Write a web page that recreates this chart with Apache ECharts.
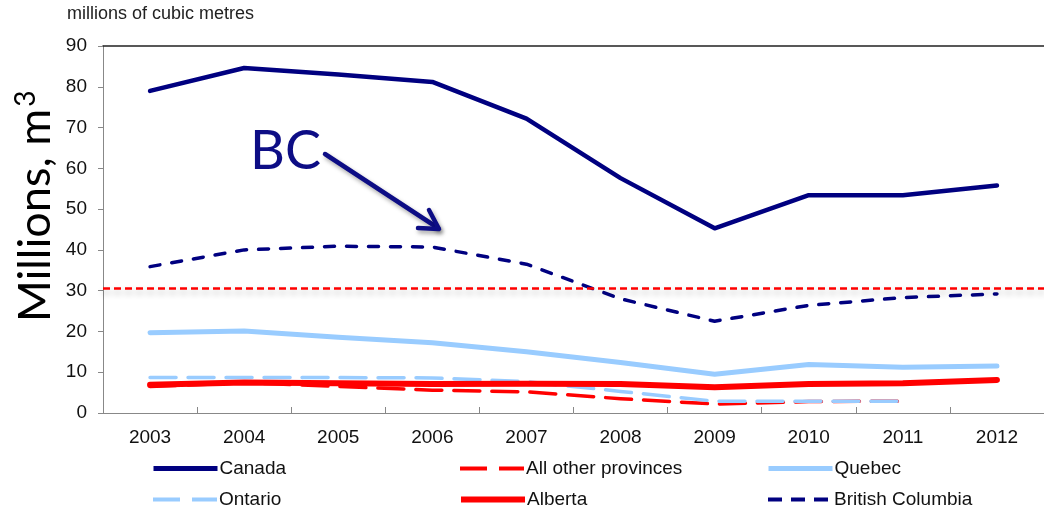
<!DOCTYPE html>
<html>
<head>
<meta charset="utf-8">
<script src="https://cdn.jsdelivr.net/npm/echarts@6/dist/echarts.min.js"></script>
<style>
  html, body { margin: 0; padding: 0; background: #fff; }
  #chart { width: 1044px; height: 512px; }
</style>
</head>
<body>
<div id="chart"></div>
<script>
// Roundwood harvest by province, millions of cubic metres
const years = ['2003', '2004', '2005', '2006', '2007', '2008', '2009', '2010', '2011', '2012'];
const canada = [79, 84.6, 83, 81.2, 72.2, 57.6, 45.3, 53.4, 53.4, 55.8];
const otherProvinces = [6.5, 7.4, 6.5, 5.6, 5.2, 3.5, 2.2, 2.8, 2.9, null];
const quebec = [19.7, 20.1, 18.6, 17.2, 15.0, 12.4, 9.5, 11.9, 11.2, 11.5];
const ontario = [8.7, 8.7, 8.7, 8.6, 7.7, 5.3, 2.9, 2.9, 2.9, null];
const alberta = [6.9, 7.5, 7.3, 7.1, 7.2, 7.1, 6.3, 7.1, 7.3, 8.1];
const britishColumbia = [35.9, 40, 40.9, 40.7, 36.5, 28, 22.5, 26.4, 28.3, 29.2];
const referenceLevel = 30.6;
const yTicks = { min: 0, max: 90, interval: 10 };

const NAVY = '#000080';
const LIGHT_BLUE = '#99ccff';
const RED = '#ff0000';
const FONT = '"Liberation Sans", Arial, sans-serif';
const TITLE_FONT = 'Lato, "Open Sans", sans-serif';

// legend slots: series name, left, top, key line width, key dash
const legendSlots = [
  ['Canada', 151, 459, 5, 'solid'],
  ['All other provinces', 458, 459, 4, [27, 12]],
  ['Quebec', 766, 459, 5, 'solid'],
  ['Ontario', 151, 490, 4, [27, 12]],
  ['Alberta', 458, 490, 6, 'solid'],
  ['British Columbia', 766, 490, 4, [14, 9]]
];

const chart = echarts.init(document.getElementById('chart'), null, { renderer: 'canvas' });

function lineSeries(name, data, color, width, type, extra) {
  return Object.assign({
    name: name,
    type: 'line',
    data: data,
    symbol: 'none',
    showSymbol: false,
    connectNulls: false,
    lineStyle: { color: color, width: width, type: type, cap: 'round', join: 'round' },
    itemStyle: { color: color },
    emphasis: { disabled: true },
    z: 3
  }, extra || {});
}

chart.setOption({
  animation: false,
  grid: { left: 103, right: -9, top: 46, bottom: 99, containLabel: false },
  xAxis: [
    {
      type: 'category',
      data: years,
      boundaryGap: true,
      axisLine: { show: true, lineStyle: { color: '#888', width: 1 } },
      axisTick: { show: true, inside: true, length: 6, lineStyle: { color: '#888' } },
      axisLabel: { fontFamily: FONT, fontSize: 19, color: '#111', margin: 15, interval: 0 },
      splitLine: { show: false }
    },
    {
      type: 'category',
      data: years,
      position: 'top',
      axisLine: { show: true, lineStyle: { color: '#222', width: 1.5 } },
      axisTick: { show: false },
      axisLabel: { show: false }
    }
  ],
  yAxis: {
    type: 'value',
    min: yTicks.min,
    max: yTicks.max,
    interval: yTicks.interval,
    axisLine: { show: true, lineStyle: { color: '#888', width: 1 } },
    axisTick: { show: true, length: 5, lineStyle: { color: '#888' } },
    axisLabel: { fontFamily: FONT, fontSize: 19, color: '#111', margin: 16 },
    splitLine: { show: false }
  },
  legend: legendSlots.map(function (slot) {
    return {
      data: [slot[0]],
      left: slot[1],
      top: slot[2],
      padding: 0,
      itemWidth: 64,
      itemHeight: 18,
      selectedMode: false,
      itemStyle: { opacity: 0 },
      lineStyle: { width: slot[3], type: slot[4], cap: 'butt' },
      textStyle: { fontFamily: FONT, fontSize: 19, color: '#111', padding: [0, 0, 0, -3] }
    };
  }),
  series: [
    lineSeries('Canada', canada, NAVY, 4.5, 'solid'),
    lineSeries('All other provinces', otherProvinces, RED, 3.5, [26, 12]),
    lineSeries('Quebec', quebec, LIGHT_BLUE, 5, 'solid'),
    lineSeries('Ontario', ontario, LIGHT_BLUE, 3.5, [26, 12]),
    lineSeries('Alberta', alberta, RED, 6, 'solid'),
    lineSeries('British Columbia', britishColumbia, NAVY, 3.5, [10, 12], {
      markLine: {
        silent: true,
        symbol: 'none',
        label: { show: false },
        lineStyle: {
          color: RED, width: 2.5, type: [7, 4],
          shadowColor: 'rgba(0,0,0,0.28)', shadowBlur: 6, shadowOffsetY: 4
        },
        data: [{ yAxis: referenceLevel }]
      }
    })
  ],
  graphic: [
    {
      type: 'text',
      left: 67,
      top: 5,
      style: { text: 'millions of cubic metres', fontFamily: FONT, fontSize: 18, fill: '#222' }
    },
    {
      type: 'text',
      x: 12,
      y: 322,
      rotation: Math.PI / 2,
      style: {
        text: '{a|Millions, m}{s|3}',
        rich: {
          a: { fontFamily: TITLE_FONT, fontSize: 45, fill: '#000', lineHeight: 46, verticalAlign: 'bottom' },
          s: { fontFamily: TITLE_FONT, fontSize: 28, fill: '#000', lineHeight: 46, verticalAlign: 'top', padding: [0, 0, 14, 2] }
        },
        verticalAlign: 'top'
      }
    },
    {
      type: 'text',
      left: 250,
      top: 125,
      style: { text: 'BC', fontFamily: TITLE_FONT, fontSize: 54, fill: '#0d0d85' }
    },
    {
      type: 'group',
      children: [
        {
          type: 'line',
          shape: { x1: 325, y1: 154, x2: 438, y2: 228 },
          style: {
            stroke: '#0d0d85', lineWidth: 4.5, lineCap: 'round',
            shadowColor: 'rgba(0,0,0,0.35)', shadowBlur: 4, shadowOffsetX: 2, shadowOffsetY: 3
          }
        },
        {
          type: 'polyline',
          shape: { points: [[429, 210], [439, 229], [418, 228]] },
          style: {
            stroke: '#0d0d85', lineWidth: 4.5, lineCap: 'round', lineJoin: 'round', fill: null,
            shadowColor: 'rgba(0,0,0,0.35)', shadowBlur: 4, shadowOffsetX: 2, shadowOffsetY: 3
          }
        }
      ]
    }
  ]
});
</script>
</body>
</html>
